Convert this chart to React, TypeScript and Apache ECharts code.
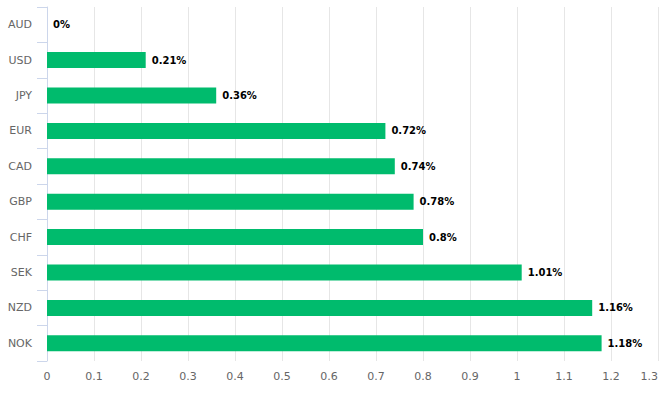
import React, { useEffect, useRef } from "react";
import * as echarts from "echarts";

const categories = ["AUD", "USD", "JPY", "EUR", "CAD", "GBP", "CHF", "SEK", "NZD", "NOK"];
const values = [0, 0.21, 0.36, 0.72, 0.74, 0.78, 0.8, 1.01, 1.16, 1.18];

const FONT = "DejaVu Sans";

export default function App() {
  const ref = useRef<HTMLDivElement>(null);
  useEffect(() => {
    const chart = echarts.init(ref.current!, undefined, { renderer: "svg" });
    chart.setOption({
      animation: false,
      grid: { left: 47, right: 10, top: 7, bottom: 32, containLabel: false },
      xAxis: {
        type: "value",
        min: 0,
        max: 1.3,
        interval: 0.1,
        axisLine: { show: false },
        axisTick: { show: false },
        splitLine: { show: true, lineStyle: { color: "#e6e6e6", width: 1 } },
        axisLabel: {
          color: "#666666",
          fontFamily: FONT,
          fontSize: 11,
          margin: 10,
          alignMaxLabel: "right",
        },
      },
      yAxis: {
        type: "category",
        data: categories,
        inverse: true,
        axisLine: { show: true, lineStyle: { color: "#ccd6eb", width: 1 } },
        axisTick: { show: true, length: 10, lineStyle: { color: "#ccd6eb" } },
        splitLine: { show: false },
        axisLabel: {
          color: "#666666",
          fontFamily: FONT,
          fontSize: 11,
          margin: 15,
        },
      },
      series: [
        {
          type: "bar",
          data: values,
          barWidth: 16,
          itemStyle: { color: "#00bb6d" },
          label: {
            show: true,
            position: "right",
            distance: 6,
            color: "#000000",
            fontFamily: FONT,
            fontSize: 10,
            fontWeight: "bold",
            formatter: (p: any) => `${p.value}%`,
          },
        },
      ],
    });
    return () => chart.dispose();
  }, []);
  return <div ref={ref} style={{ width: 668, height: 393, position: "absolute", left: 0, top: 0 }} />;
}
